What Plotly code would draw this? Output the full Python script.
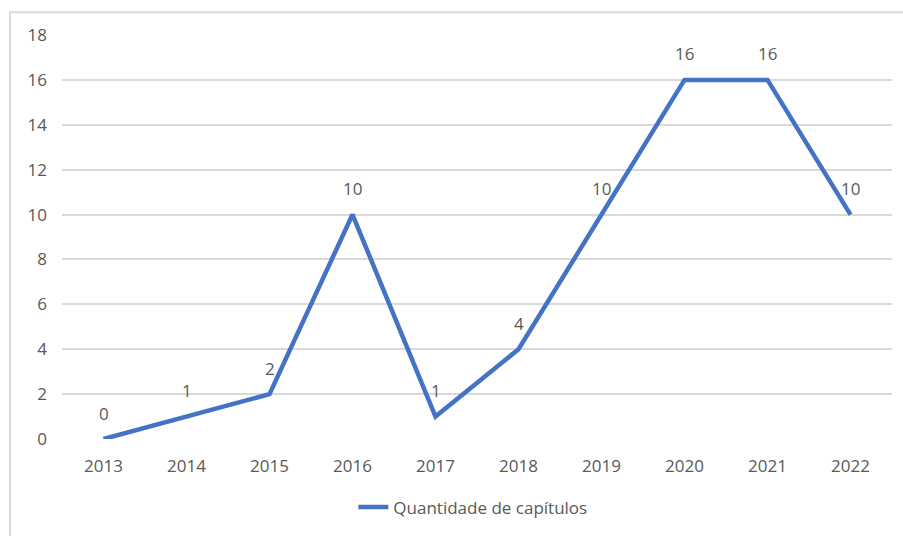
import plotly.graph_objects as go

years = ["2013", "2014", "2015", "2016", "2017", "2018", "2019", "2020", "2021", "2022"]
chapters = [0, 1, 2, 10, 1, 4, 10, 16, 16, 10]
series_name = "Quantidade de capítulos"

LINE_BLUE = "#4472C4"
GRID = "#D9D9D9"
TEXT = "#595959"
FONT = "Open Sans"
FSIZE = 17

fig = go.Figure()
fig.add_trace(go.Scatter(
    x=years, y=chapters, mode="lines", name=series_name,
    line=dict(color=LINE_BLUE, width=4.5),
    showlegend=True, hoverinfo="skip",
))

# value labels sitting above each point (category index on the x axis)
for i, v in enumerate(chapters):
    fig.add_annotation(x=i, y=v, text=str(v), showarrow=False,
                       yshift=26, font=dict(family=FONT, size=FSIZE, color=TEXT))

# outer chart frame
fig.add_shape(type="rect", xref="paper", yref="paper",
              x0=-0.0627, x1=1.2, y0=-0.4, y1=1.0565,
              line=dict(color=GRID, width=2), fillcolor="rgba(0,0,0,0)", layer="below")

fig.update_layout(
    width=903, height=536,
    margin=dict(l=62, r=11, t=35, b=94),
    paper_bgcolor="white", plot_bgcolor="white",
    font=dict(family=FONT, size=FSIZE, color=TEXT),
    xaxis=dict(type="category", range=[-0.5, 9.5], showgrid=False, zeroline=False,
               showline=False, ticks="", ticklabelstandoff=15, automargin=False,
               tickfont=dict(family=FONT, size=FSIZE, color=TEXT)),
    yaxis=dict(range=[0, 18], dtick=2, showgrid=True, gridcolor=GRID, gridwidth=1.5,
               zeroline=False, showline=False, ticks="", ticklabelstandoff=14,
               automargin=False,
               tickfont=dict(family=FONT, size=FSIZE, color=TEXT)),
    legend=dict(orientation="h", x=0.495, xanchor="center", y=-0.1695, yanchor="middle",
                font=dict(family=FONT, size=FSIZE, color=TEXT), bgcolor="rgba(0,0,0,0)"),
)

fig.write_html("out.html")
